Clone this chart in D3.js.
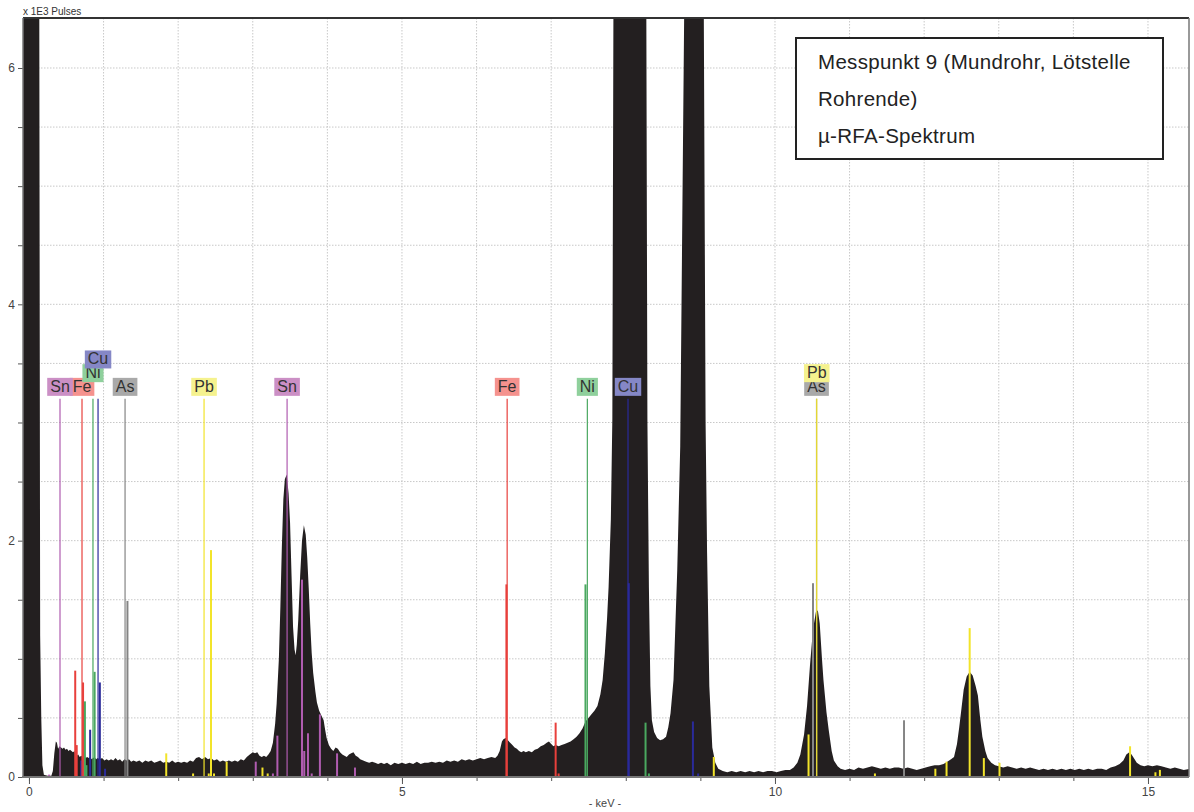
<!DOCTYPE html>
<html>
<head>
<meta charset="utf-8">
<script src="https://cdn.jsdelivr.net/npm/d3@7"></script>
<style>
body { margin: 0; background: #fff; }
text { font-family: "Liberation Sans", Arial, sans-serif; }
</style>
</head>
<body>
<div id="chart"></div>
<script>
// spectrum: [keV, x1E3 pulses]
var spectrum = [
  [-0.08, 40], [0.12, 40], [0.135, 8], [0.15, 1.2], [0.165, 0.5], [0.18, 0.1], [0.2, 0.02], [0.25, 0.01],
  [0.3, 0.01], [0.32, 0.05], [0.34, 0.2], [0.36, 0.3], [0.375, 0.29], [0.39, 0.24], [0.41, 0.26], [0.43, 0.25],
  [0.45, 0.24], [0.47, 0.25], [0.49, 0.23], [0.51, 0.24], [0.53, 0.22], [0.55, 0.23], [0.57, 0.22], [0.59, 0.21],
  [0.61, 0.22], [0.62, 0.19], [0.64, 0.18], [0.66, 0.19], [0.68, 0.17], [0.70, 0.18], [0.72, 0.17], [0.74, 0.18],
  [0.76, 0.16], [0.78, 0.17], [0.80, 0.16], [0.82, 0.17], [0.84, 0.15], [0.86, 0.16], [0.88, 0.17], [0.90, 0.15],
  [0.92, 0.16], [0.95, 0.15], [0.98, 0.16], [1.01, 0.14], [1.04, 0.15], [1.07, 0.14], [1.10, 0.15], [1.13, 0.14],
  [1.16, 0.16], [1.19, 0.14], [1.22, 0.15], [1.25, 0.13], [1.28, 0.15], [1.31, 0.14], [1.34, 0.15], [1.37, 0.13],
  [1.40, 0.14], [1.44, 0.13], [1.48, 0.14], [1.52, 0.12], [1.56, 0.14], [1.60, 0.13], [1.64, 0.14], [1.68, 0.12],
  [1.72, 0.13], [1.76, 0.14], [1.80, 0.12], [1.84, 0.13], [1.88, 0.12], [1.92, 0.14], [1.96, 0.12], [2.00, 0.13],
  [2.04, 0.12], [2.08, 0.13], [2.12, 0.12], [2.16, 0.14], [2.20, 0.13], [2.24, 0.16], [2.28, 0.17], [2.32, 0.15],
  [2.36, 0.17], [2.40, 0.15], [2.44, 0.16], [2.48, 0.14], [2.52, 0.15], [2.56, 0.13], [2.60, 0.14], [2.64, 0.13],
  [2.68, 0.14], [2.72, 0.13], [2.76, 0.14], [2.80, 0.13], [2.84, 0.15], [2.88, 0.14], [2.92, 0.17], [2.96, 0.19],
  [3.00, 0.21], [3.03, 0.20], [3.06, 0.21], [3.09, 0.18], [3.12, 0.17], [3.15, 0.18], [3.18, 0.17], [3.21, 0.19],
  [3.24, 0.22], [3.27, 0.29], [3.30, 0.45], [3.32, 0.62], [3.35, 1.0], [3.37, 1.44], [3.39, 1.95], [3.41, 2.35],
  [3.43, 2.52], [3.455, 2.56], [3.48, 2.40], [3.50, 2.15], [3.52, 1.7], [3.54, 1.27], [3.56, 1.08], [3.575, 1.03],
  [3.59, 1.12], [3.61, 1.33], [3.635, 1.7], [3.66, 2.0], [3.685, 2.13], [3.71, 2.05], [3.73, 1.86], [3.75, 1.6],
  [3.77, 1.3], [3.79, 1.05], [3.81, 0.88], [3.84, 0.72], [3.86, 0.63], [3.89, 0.56], [3.92, 0.52], [3.95, 0.48],
  [3.97, 0.40], [3.99, 0.33], [4.02, 0.27], [4.05, 0.24], [4.08, 0.22], [4.11, 0.25], [4.14, 0.24], [4.17, 0.21],
  [4.20, 0.19], [4.23, 0.18], [4.26, 0.17], [4.29, 0.19], [4.32, 0.20], [4.35, 0.21], [4.38, 0.18], [4.41, 0.17],
  [4.44, 0.15], [4.48, 0.14], [4.52, 0.13], [4.56, 0.12], [4.60, 0.13], [4.64, 0.12], [4.68, 0.11], [4.72, 0.12],
  [4.76, 0.11], [4.80, 0.12], [4.85, 0.10], [4.90, 0.12], [4.95, 0.11], [5.00, 0.12], [5.05, 0.11], [5.10, 0.12],
  [5.15, 0.11], [5.20, 0.13], [5.25, 0.11], [5.30, 0.12], [5.35, 0.12], [5.40, 0.13], [5.45, 0.12], [5.50, 0.13],
  [5.55, 0.12], [5.60, 0.14], [5.65, 0.13], [5.70, 0.14], [5.75, 0.13], [5.80, 0.15], [5.85, 0.14], [5.90, 0.15],
  [5.95, 0.14], [6.00, 0.15], [6.05, 0.16], [6.10, 0.15], [6.15, 0.16], [6.20, 0.17], [6.25, 0.16], [6.28, 0.18],
  [6.31, 0.22], [6.34, 0.30], [6.36, 0.32], [6.39, 0.33], [6.42, 0.31], [6.45, 0.29], [6.48, 0.27], [6.51, 0.25],
  [6.54, 0.24], [6.57, 0.22], [6.60, 0.21], [6.63, 0.22], [6.66, 0.21], [6.70, 0.22], [6.74, 0.21], [6.78, 0.23],
  [6.82, 0.24], [6.86, 0.26], [6.90, 0.27], [6.94, 0.29], [6.97, 0.30], [7.00, 0.28], [7.03, 0.26], [7.06, 0.27],
  [7.10, 0.26], [7.14, 0.27], [7.18, 0.28], [7.22, 0.29], [7.26, 0.30], [7.30, 0.32], [7.34, 0.34], [7.38, 0.37],
  [7.42, 0.41], [7.46, 0.47], [7.50, 0.50], [7.54, 0.53], [7.58, 0.56], [7.62, 0.60], [7.66, 0.70], [7.69, 0.82],
  [7.72, 1.05], [7.75, 1.35], [7.77, 1.61], [7.80, 2.18], [7.82, 3.03], [7.835, 6.6], [7.9, 25], [8.04, 60],
  [8.2, 25], [8.275, 6.6], [8.29, 3.03], [8.31, 1.61], [8.33, 0.77], [8.35, 0.48], [8.38, 0.38], [8.42, 0.33],
  [8.46, 0.31], [8.50, 0.32], [8.54, 0.34], [8.57, 0.42], [8.60, 0.54], [8.64, 0.82], [8.69, 1.75], [8.73, 2.8],
  [8.785, 6.6], [8.9, 20], [9.045, 6.6], [9.07, 3.0], [9.09, 1.9], [9.12, 0.77], [9.16, 0.25], [9.20, 0.12],
  [9.24, 0.07], [9.30, 0.05], [9.36, 0.04], [9.42, 0.05], [9.48, 0.04], [9.54, 0.05], [9.60, 0.04], [9.66, 0.05],
  [9.72, 0.04], [9.78, 0.05], [9.84, 0.04], [9.90, 0.05], [9.96, 0.05], [10.02, 0.04], [10.08, 0.05], [10.14, 0.06],
  [10.20, 0.06], [10.25, 0.08], [10.30, 0.12], [10.34, 0.19], [10.39, 0.36], [10.43, 0.6], [10.47, 0.95], [10.51, 1.25],
  [10.55, 1.40], [10.575, 1.41], [10.60, 1.3], [10.63, 1.0], [10.65, 0.82], [10.69, 0.55], [10.72, 0.4], [10.76, 0.22],
  [10.79, 0.14], [10.84, 0.09], [10.88, 0.07], [10.94, 0.06], [11.0, 0.07], [11.06, 0.06], [11.12, 0.08], [11.18, 0.07],
  [11.24, 0.08], [11.30, 0.09], [11.36, 0.08], [11.42, 0.07], [11.48, 0.08], [11.54, 0.07], [11.60, 0.08], [11.66, 0.08],
  [11.72, 0.07], [11.78, 0.08], [11.84, 0.07], [11.90, 0.06], [11.96, 0.07], [12.02, 0.08], [12.08, 0.09], [12.14, 0.10],
  [12.20, 0.10], [12.26, 0.11], [12.31, 0.13], [12.36, 0.15], [12.40, 0.17], [12.44, 0.28], [12.47, 0.42], [12.50, 0.58],
  [12.53, 0.74], [12.57, 0.85], [12.61, 0.89], [12.65, 0.86], [12.69, 0.77], [12.72, 0.69], [12.75, 0.5], [12.78, 0.34],
  [12.82, 0.22], [12.85, 0.16], [12.9, 0.12], [12.95, 0.10], [13.0, 0.09], [13.06, 0.08], [13.12, 0.09], [13.18, 0.08],
  [13.24, 0.07], [13.3, 0.08], [13.36, 0.07], [13.42, 0.08], [13.48, 0.07], [13.54, 0.06], [13.6, 0.07], [13.66, 0.06],
  [13.72, 0.07], [13.78, 0.06], [13.84, 0.07], [13.9, 0.06], [13.96, 0.07], [14.02, 0.06], [14.08, 0.07], [14.14, 0.06],
  [14.2, 0.07], [14.26, 0.06], [14.32, 0.07], [14.38, 0.07], [14.44, 0.06], [14.5, 0.08], [14.56, 0.09], [14.62, 0.11],
  [14.67, 0.14], [14.71, 0.19], [14.75, 0.21], [14.78, 0.19], [14.81, 0.16], [14.85, 0.12], [14.9, 0.10], [14.95, 0.09],
  [15.0, 0.10], [15.06, 0.09], [15.12, 0.10], [15.18, 0.09], [15.24, 0.08], [15.3, 0.07], [15.36, 0.08], [15.42, 0.07],
  [15.48, 0.06], [15.56, 0.07]
];

var boxColors = { Sn: "#cb8fc5", Fe: "#f5928e", Ni: "#8fd09c", Cu: "#8587c6", As: "#a9a9a9", Pb: "#f5f28e" };
var lineColors = { Sn: "#b05cb0", Fe: "#e8403c", Ni: "#4aa860", Cu: "#2a2a9a", As: "#858585", Pb: "#f2e42a" };

// labelled lines [element, keV]
var markers = [
  ["Sn", 0.416], ["Fe", 0.711], ["Ni", 0.858], ["Cu", 0.926], ["As", 1.288], ["Pb", 2.347],
  ["Sn", 3.46], ["Fe", 6.41], ["Ni", 7.485], ["Cu", 8.03], ["As", 10.557], ["Pb", 10.56]
];
var markerHeight = 3.2;

// line bars [keV, height]
var barsSn = [[0.27, 0.02], [3.04, 0.13], [3.27, 0.03], [3.33, 0.35], [3.66, 1.67], [3.69, 0.22], [3.74, 0.37], [3.79, 0.03], [3.90, 0.53], [4.13, 0.2], [4.37, 0.08]];
var barsFe = [[0.62, 0.9], [0.64, 0.27], [0.725, 0.8], [6.40, 1.63], [7.06, 0.46], [7.1, 0.03]];
var barsNi = [[0.75, 0.64], [0.77, 0.1], [0.88, 0.89], [7.46, 1.63], [8.265, 0.46], [8.31, 0.03]];
var barsCu = [[0.70, 0.14], [0.82, 0.4], [0.95, 0.8], [1.02, 0.07], [8.04, 1.64], [8.9, 0.47], [8.97, 0.03]];
var barsAs = [[1.32, 1.49], [10.51, 1.64], [11.73, 0.48]];
var barsPb = [[1.84, 0.2], [2.2, 0.03], [2.41, 0.03], [2.44, 1.92], [2.48, 0.03], [2.65, 0.13], [3.13, 0.08], [3.2, 0.03],
  [9.18, 0.17], [10.45, 0.36], [11.34, 0.03], [12.15, 0.07], [12.3, 0.13], [12.61, 1.26], [12.8, 0.16], [13.01, 0.12],
  [14.76, 0.26], [15.10, 0.04], [15.16, 0.06]];

var xTickLabels = [0, 5, 10, 15];
var yTickLabels = [0, 2, 4, 6];
var titleLines = ["Messpunkt 9 (Mundrohr, Lötstelle", "Rohrende)", "µ-RFA-Spektrum"];

var W = 1194, H = 812;
var pL = 23, pR = 1189, pT = 18, pB = 777;

var svg = d3.select("#chart").append("svg")
    .attr("width", W)
    .attr("height", H);

var x = d3.scaleLinear().domain([-0.08, 15.55]).range([pL, pR]);
var y = d3.scaleLinear().domain([0, 6.423]).range([pB, pT]);

svg.append("clipPath").attr("id", "plotclip")
  .append("rect")
    .attr("x", pL).attr("y", pT)
    .attr("width", pR - pL).attr("height", pB - pT);

// grid
var grid = svg.append("g");
grid.selectAll(".vg").data(d3.range(1, 16)).enter().append("line")
    .attr("x1", function(d) { return x(d); }).attr("x2", function(d) { return x(d); })
    .attr("y1", pT).attr("y2", pB)
    .attr("stroke", "#c8c8c8").attr("stroke-dasharray", "1.5,1.5");
grid.selectAll(".hg").data(d3.range(0.5, 6.01, 0.5)).enter().append("line")
    .attr("x1", pL).attr("x2", pR)
    .attr("y1", function(d) { return y(d); }).attr("y2", function(d) { return y(d); })
    .attr("stroke", "#c8c8c8").attr("stroke-dasharray", "1.5,1.5");

var plot = svg.append("g").attr("clip-path", "url(#plotclip)");

var area = d3.area()
    .x(function(d) { return x(d[0]); })
    .y0(y(0))
    .y1(function(d) { return y(d[1]); });

plot.append("path")
    .datum(spectrum)
    .attr("d", area)
    .attr("fill", "#231f20");

// bars
var allBars = [];
[["Sn", barsSn], ["Fe", barsFe], ["Ni", barsNi], ["Cu", barsCu], ["As", barsAs], ["Pb", barsPb]].forEach(function(b) {
  b[1].forEach(function(v) { allBars.push({ el: b[0], e: v[0], h: v[1] }); });
});

plot.selectAll(".bar").data(allBars).enter().append("line")
    .attr("x1", function(d) { return x(d.e); }).attr("x2", function(d) { return x(d.e); })
    .attr("y1", y(0)).attr("y2", function(d) { return y(d.h); })
    .attr("stroke", function(d) { return lineColors[d.el]; })
    .attr("stroke-width", 2);

plot.selectAll(".mk").data(markers).enter().append("line")
    .attr("x1", function(d) { return x(d[1]); }).attr("x2", function(d) { return x(d[1]); })
    .attr("y1", y(0)).attr("y2", y(markerHeight))
    .attr("stroke", function(d) { return lineColors[d[0]]; })
    .attr("stroke-width", 1.2);

// labels, stacked when close
var placed = [];
markers.forEach(function(m, i) {
  var cx = x(m[1]);
  var level = 0;
  while (placed.some(function(p) { return p.level == level && Math.abs(p.cx - cx) < 18; })) level++;
  placed.push({ el: m[0], cx: cx, level: level, idx: i });
});
placed.sort(function(a, b) { return a.level - b.level || b.idx - a.idx; });

var labels = svg.append("g");
placed.forEach(function(p) {
  var by = y(markerHeight) - 3 - p.level * 13.7;
  var g = labels.append("g");
  var t = g.append("text")
      .attr("x", p.cx).attr("y", by - 4)
      .attr("text-anchor", "middle")
      .attr("font-size", "16px")
      .attr("fill", "#333")
      .text(p.el);
  var w = t.node().getComputedTextLength() + 6;
  g.insert("rect", "text")
      .attr("x", p.cx - w / 2).attr("y", by - 18)
      .attr("width", w).attr("height", 18)
      .attr("fill", boxColors[p.el]);
});

// axes
var xMinor = d3.axisBottom(x).tickValues(d3.range(0, 16)).tickSize(4).tickFormat("");
var xMajor = d3.axisBottom(x).tickValues(xTickLabels).tickSize(7).tickPadding(3);
var yAxis = d3.axisLeft(y).tickValues(d3.range(0, 6.01, 0.5)).tickSize(5).tickPadding(3)
    .tickFormat(function(d) { return yTickLabels.indexOf(d) >= 0 ? d : ""; });

function styleAxis(g) {
  g.select(".domain").remove();
  g.selectAll("line").attr("stroke", "#555");
  g.selectAll("text").attr("fill", "#444").attr("font-size", "12px")
    .attr("font-family", "Liberation Sans, Arial, sans-serif");
}
svg.append("g").attr("transform", "translate(0," + pB + ")").call(xMinor).call(styleAxis);
svg.append("g").attr("transform", "translate(0," + pB + ")").call(xMajor).call(styleAxis);
svg.append("g").attr("transform", "translate(" + pL + ",0)").call(yAxis).call(styleAxis);

// frame
svg.append("line").attr("x1", pL).attr("x2", pR).attr("y1", pT).attr("y2", pT)
    .attr("stroke", "#333").attr("stroke-width", 2);
svg.append("line").attr("x1", pR).attr("x2", pR).attr("y1", pT).attr("y2", pB)
    .attr("stroke", "#777").attr("stroke-width", 1.5);
svg.append("line").attr("x1", pL).attr("x2", pL).attr("y1", pT).attr("y2", pB)
    .attr("stroke", "#777").attr("stroke-width", 1.5);
svg.append("line").attr("x1", pL - 1).attr("x2", pR).attr("y1", pB).attr("y2", pB)
    .attr("stroke", "#777").attr("stroke-width", 2);

svg.append("text").attr("x", pL).attr("y", 15)
    .attr("font-size", "10px").attr("fill", "#333")
    .text("x 1E3 Pulses");
svg.append("text").attr("x", 605).attr("y", 807)
    .attr("text-anchor", "middle")
    .attr("font-size", "11px").attr("fill", "#444")
    .text("- keV -");

// title box
svg.append("rect")
    .attr("x", 796).attr("y", 38).attr("width", 367).attr("height", 121)
    .attr("fill", "#fff").attr("stroke", "#222").attr("stroke-width", 2);
svg.selectAll(".tl").data(titleLines).enter().append("text")
    .attr("x", 818)
    .attr("y", function(d, i) { return 69 + i * 37; })
    .attr("font-size", "20.5px")
    .attr("letter-spacing", "0.3px")
    .attr("fill", "#222")
    .text(function(d) { return d; });
</script>
</body>
</html>
